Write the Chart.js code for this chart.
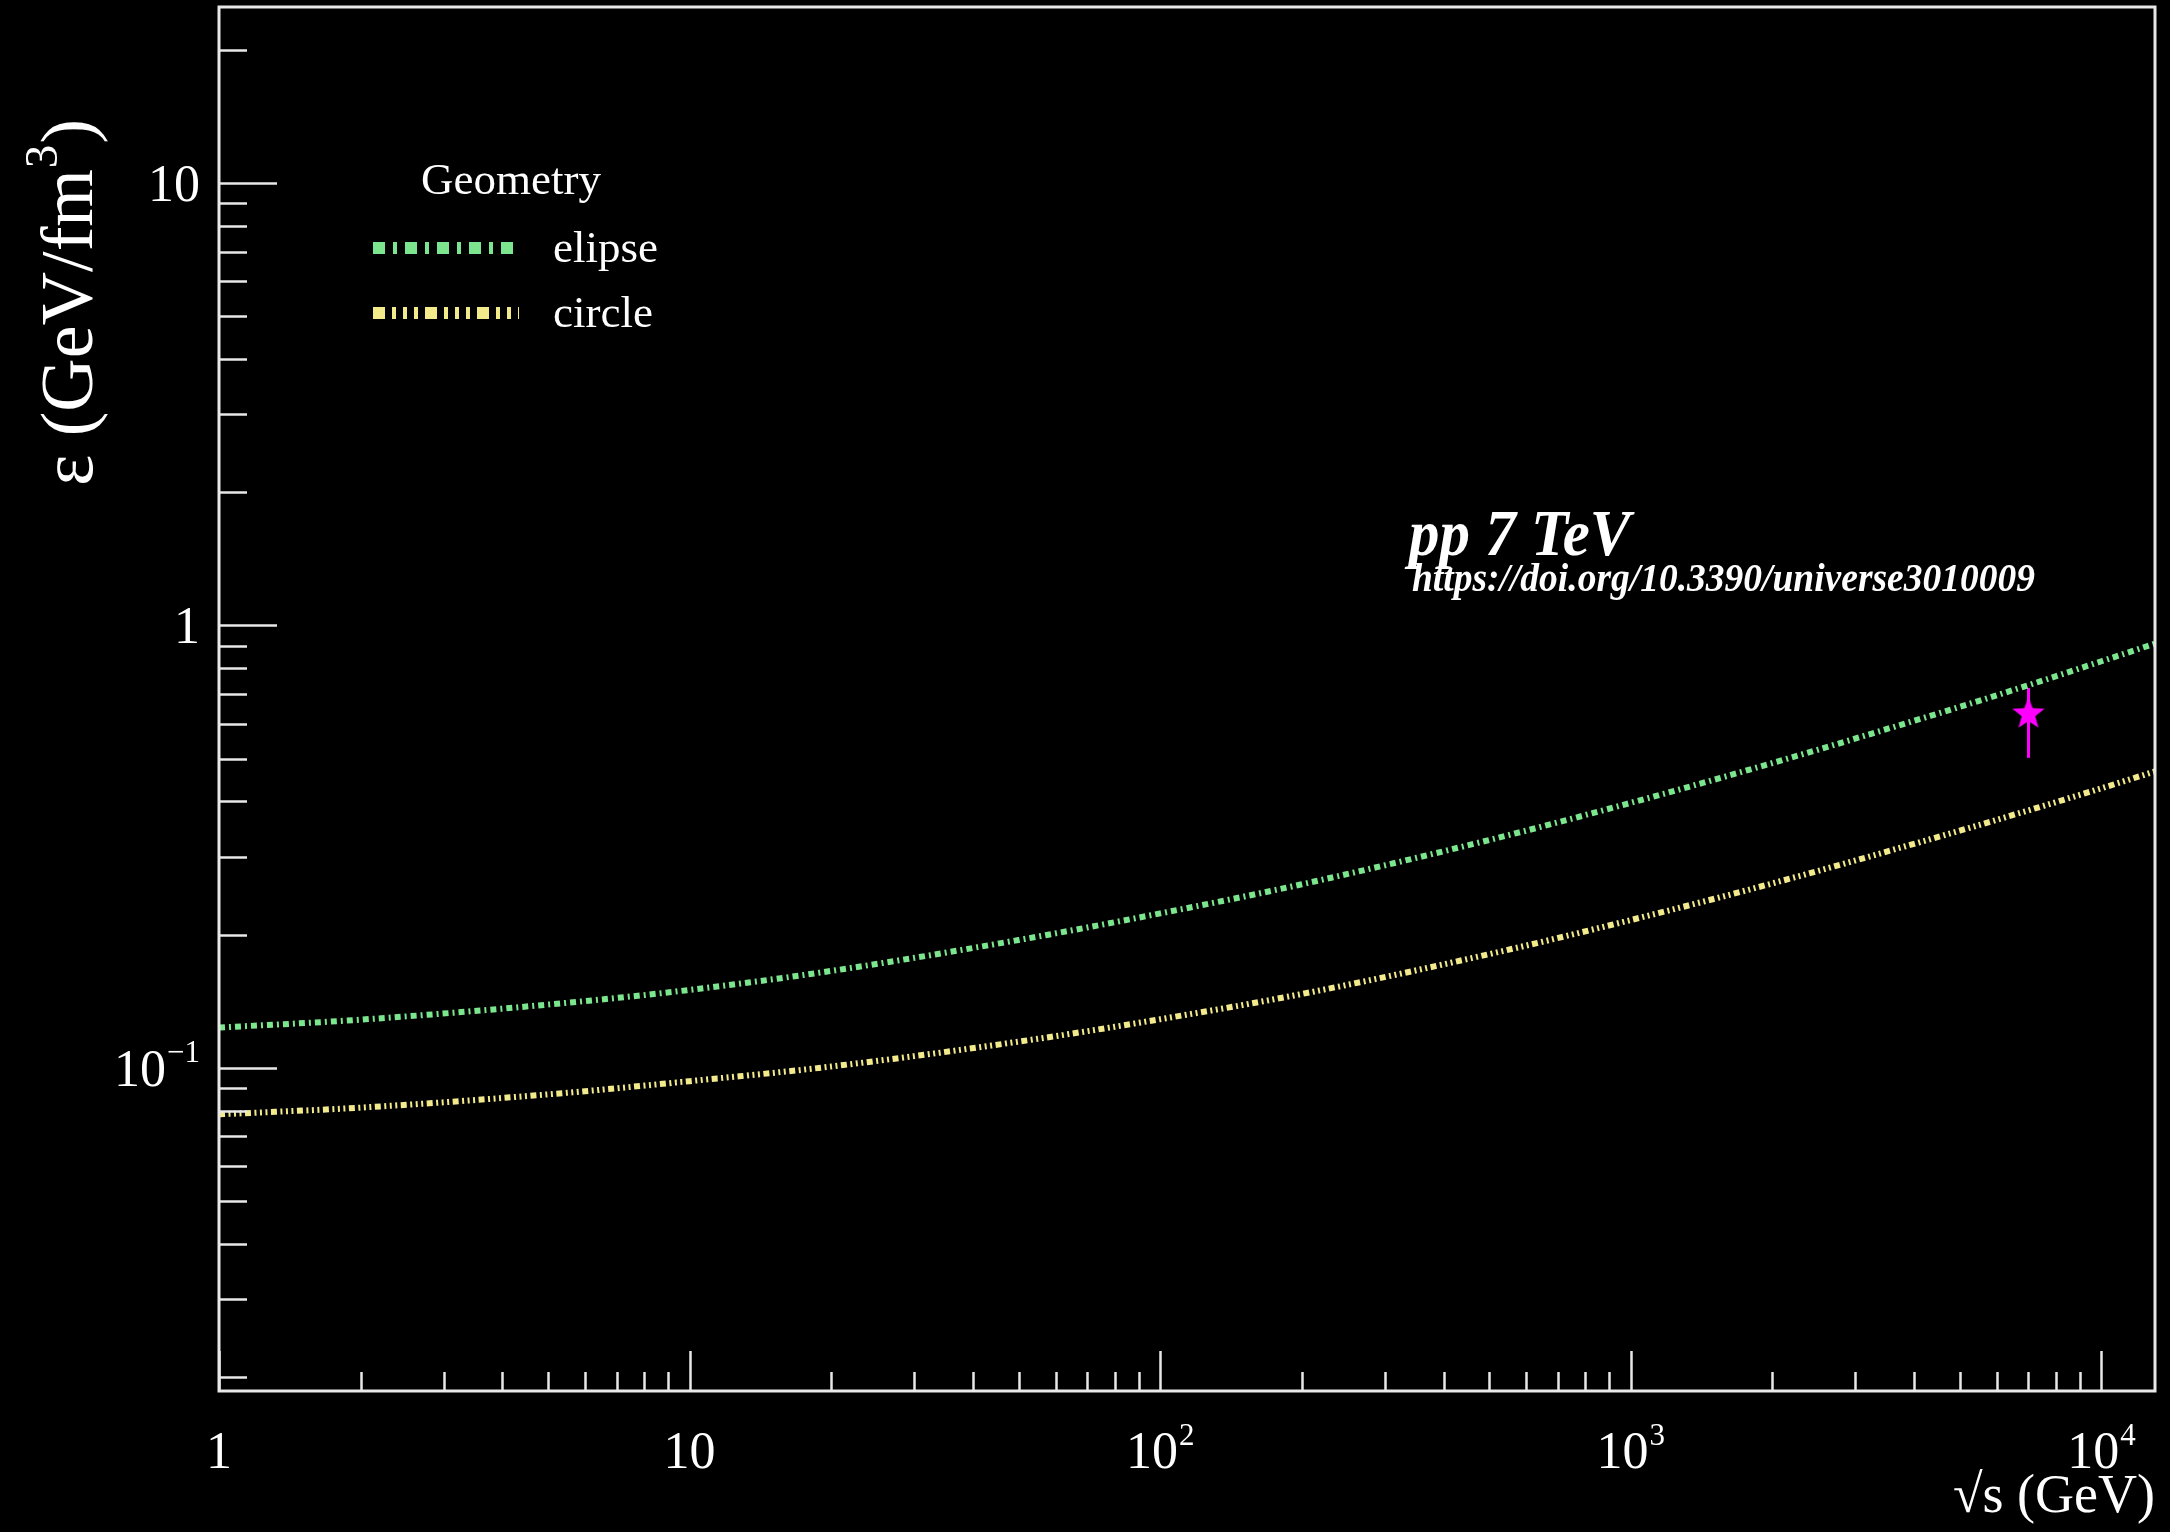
<!DOCTYPE html>
<html>
<head>
<meta charset="utf-8">
<title>Energy density vs sqrt(s)</title>
<script src="https://cdn.jsdelivr.net/npm/chart.js@4.4.1/dist/chart.umd.min.js"></script>
<style>
  html, body { margin: 0; padding: 0; background: #000; }
  #wrap { width: 2170px; height: 1532px; }
</style>
</head>
<body>
<div id="wrap"><canvas id="c" width="2170" height="1532"></canvas></div>
<script>
// Centre-of-mass energies (GeV) where the geometry curves are sampled
const sqrtS = [1, 2, 5, 10, 20, 50, 100, 200, 500, 1000, 2000, 5000, 7000, 10000, 13000];
// Energy density (GeV/fm^3), elliptic overlap geometry
const elipseEps = [0.1233, 0.1285, 0.1390, 0.1500, 0.1656, 0.1945, 0.2234, 0.2600, 0.3273, 0.3972, 0.4887, 0.6546, 0.7328, 0.8299, 0.9099];
// Energy density (GeV/fm^3), circular overlap geometry
const circleEps = [0.0785, 0.0813, 0.0871, 0.0933, 0.1007, 0.1146, 0.1288, 0.1469, 0.1807, 0.2158, 0.2612, 0.3436, 0.3819, 0.4285, 0.4677];

// pp 7 TeV point with its error band
const ppSqrtS = [7000];
const ppEps = [0.631];
const ppEpsHigh = [0.722];
const ppEpsLow = [0.502];

// Axis ranges and labelled decades
const xRange = [1, 13000];
const yRange = [0.0186, 25];
const xMajorTicks = [1, 10, 100, 1000, 10000];
const xTickLabels = [['1', ''], ['10', ''], ['10', '2'], ['10', '3'], ['10', '4']];
const yMajorTicks = [0.1, 1, 10];
const yTickLabels = [['10', '\u22121'], ['1', ''], ['10', '']];

const legendTitle = 'Geometry';
const seriesNames = ['elipse', 'circle'];
const seriesColors = ['#7ce68e', '#f3ea8c'];
const seriesDash = [[6, 4, 2, 4], [6, 3.5, 2, 3.5, 2, 3.5, 2, 3.5]];

const FONT = '"Liberation Serif", "Times New Roman", serif';
const AXIS_COLOR = '#e8e8e8';

function toPoints(xs, ys) { return xs.map((v, i) => ({ x: v, y: ys[i] })); }

// Filled five-pointed star used as the marker of the measured point
function makeStar(r, color) {
  const s = Math.ceil(r * 2 + 4);
  const c = document.createElement('canvas');
  c.width = s; c.height = s;
  const g = c.getContext('2d');
  g.fillStyle = color;
  g.beginPath();
  for (let i = 0; i < 10; i++) {
    const a = -Math.PI / 2 + i * Math.PI / 5;
    const rr = (i % 2) ? r * 0.42 : r;
    const px = s / 2 + rr * Math.cos(a), py = s / 2 + rr * Math.sin(a);
    if (i) g.lineTo(px, py); else g.moveTo(px, py);
  }
  g.closePath();
  g.fill();
  return c;
}

// "base^exp" text, anchored by alignment at (x, baseline)
function drawPow(ctx, base, exp, x, baseline, align, size) {
  const expSize = Math.round(size * 0.6);
  ctx.font = size + 'px ' + FONT;
  const wb = ctx.measureText(base).width;
  ctx.font = expSize + 'px ' + FONT;
  const we = exp ? ctx.measureText(exp).width + 1 : 0;
  const total = wb + we;
  let x0 = x;
  if (align === 'center') x0 = x - total / 2;
  else if (align === 'right') x0 = x - total;
  ctx.textAlign = 'left';
  ctx.textBaseline = 'alphabetic';
  ctx.font = size + 'px ' + FONT;
  ctx.fillText(base, x0, baseline);
  if (exp) {
    ctx.font = expSize + 'px ' + FONT;
    ctx.fillText(exp, x0 + wb + 1, baseline - size * 0.45);
  }
}

const framePlugin = {
  id: 'frameAndText',
  beforeDatasetsDraw(chart) {
    const { ctx, scales: { x, y } } = chart;
    ctx.save();
    ctx.strokeStyle = '#ff00ff';
    ctx.lineWidth = 3;
    ppSqrtS.forEach((s, i) => {
      const px = x.getPixelForValue(s);
      ctx.beginPath();
      ctx.moveTo(px, y.getPixelForValue(ppEpsHigh[i]));
      ctx.lineTo(px, y.getPixelForValue(ppEpsLow[i]));
      ctx.stroke();
    });
    ctx.restore();
  },
  afterDraw(chart) {
    const { ctx, chartArea: a, scales: { x, y } } = chart;
    ctx.save();

    // frame
    ctx.strokeStyle = AXIS_COLOR;
    ctx.lineWidth = 3;
    ctx.strokeRect(a.left, a.top, a.right - a.left, a.bottom - a.top);

    // inward ticks on the left axis
    ctx.lineWidth = 2.5;
    ctx.beginPath();
    for (let d = -2; d <= 1; d++) {
      for (let k = 1; k <= 9; k++) {
        const v = k * Math.pow(10, d);
        if (v < yRange[0] || v > yRange[1]) continue;
        const py = Math.round(y.getPixelForValue(v)) + 0.5;
        const len = k === 1 ? 58 : 28;
        ctx.moveTo(a.left, py);
        ctx.lineTo(a.left + len, py);
      }
    }
    // inward ticks on the bottom axis
    for (let d = 0; d <= 4; d++) {
      for (let k = 1; k <= 9; k++) {
        const v = k * Math.pow(10, d);
        if (v < xRange[0] || v > xRange[1]) continue;
        const px = Math.round(x.getPixelForValue(v)) + 0.5;
        const len = k === 1 ? 40 : 19;
        ctx.moveTo(px, a.bottom);
        ctx.lineTo(px, a.bottom - len);
      }
    }
    ctx.stroke();

    // tick labels
    ctx.fillStyle = '#ffffff';
    xMajorTicks.forEach((v, i) => {
      drawPow(ctx, xTickLabels[i][0], xTickLabels[i][1], x.getPixelForValue(v), 1468, 'center', 52);
    });
    yMajorTicks.forEach((v, i) => {
      drawPow(ctx, yTickLabels[i][0], yTickLabels[i][1], 200, y.getPixelForValue(v) + 18, 'right', 52);
    });

    // x title, right aligned at the axis end
    ctx.font = '54px ' + FONT;
    ctx.textAlign = 'right';
    ctx.textBaseline = 'alphabetic';
    ctx.fillText('\u221As (GeV)', a.right, 1512);

    // y title, rotated, right aligned at the top
    ctx.save();
    ctx.translate(92, 119);
    ctx.rotate(-Math.PI / 2);
    const tSize = 74, sSize = 47;
    ctx.font = tSize + 'px ' + FONT;
    const p1 = '\u03B5 (GeV/fm', p3 = ')';
    const w1 = ctx.measureText(p1).width, w3 = ctx.measureText(p3).width;
    ctx.font = sSize + 'px ' + FONT;
    const w2 = ctx.measureText('3').width + 2;
    let tx = -(w1 + w2 + w3);
    ctx.textAlign = 'left';
    ctx.font = tSize + 'px ' + FONT;
    ctx.fillText(p1, tx, 0);
    ctx.font = sSize + 'px ' + FONT;
    ctx.fillText('3', tx + w1 + 1, -35);
    ctx.font = tSize + 'px ' + FONT;
    ctx.fillText(p3, tx + w1 + w2, 0);
    ctx.restore();

    // legend
    ctx.font = '45px ' + FONT;
    ctx.textAlign = 'center';
    ctx.textBaseline = 'alphabetic';
    ctx.fillText(legendTitle, 511, 194);
    const rowY = [248, 313];
    seriesNames.forEach((name, i) => {
      ctx.save();
      ctx.strokeStyle = seriesColors[i];
      ctx.lineWidth = 12;
      ctx.lineCap = 'butt';
      ctx.setLineDash(seriesDash[i].map(v => v * 2));
      ctx.beginPath();
      ctx.moveTo(373, rowY[i]);
      ctx.lineTo(519, rowY[i]);
      ctx.stroke();
      ctx.restore();
      ctx.fillStyle = '#ffffff';
      ctx.font = '45px ' + FONT;
      ctx.textAlign = 'left';
      ctx.textBaseline = 'middle';
      ctx.fillText(name, 553, rowY[i] + 2);
    });

    // annotation, slightly stretched vertically
    ctx.textAlign = 'left';
    ctx.textBaseline = 'alphabetic';
    ctx.save();
    ctx.translate(1409, 555);
    ctx.scale(1, 1.08);
    ctx.font = 'italic bold 61px ' + FONT;
    ctx.fillText('pp 7 TeV', 0, 0);
    ctx.restore();
    ctx.save();
    ctx.translate(1412, 591);
    ctx.scale(1, 1.08);
    ctx.font = 'italic bold 37.5px ' + FONT;
    ctx.fillText('https://doi.org/10.3390/universe3010009', 0, 0);
    ctx.restore();

    ctx.restore();
  }
};

new Chart(document.getElementById('c'), {
  type: 'line',
  data: {
    datasets: [
      {
        label: 'pp 7 TeV',
        data: toPoints(ppSqrtS, ppEps),
        showLine: false,
        pointStyle: makeStar(17, '#ff00ff'),
        pointRadius: 17,
        borderColor: '#ff00ff',
        backgroundColor: '#ff00ff'
      },
      {
        label: seriesNames[0],
        data: toPoints(sqrtS, elipseEps),
        borderColor: seriesColors[0],
        borderWidth: 6,
        borderDash: seriesDash[0],
        borderCapStyle: 'butt',
        cubicInterpolationMode: 'monotone',
        pointRadius: 0,
        fill: false
      },
      {
        label: seriesNames[1],
        data: toPoints(sqrtS, circleEps),
        borderColor: seriesColors[1],
        borderWidth: 6,
        borderDash: seriesDash[1],
        borderCapStyle: 'butt',
        cubicInterpolationMode: 'monotone',
        pointRadius: 0,
        fill: false
      }
    ]
  },
  options: {
    responsive: false,
    animation: false,
    devicePixelRatio: 1,
    layout: { autoPadding: false, padding: { left: 219, right: 15, top: 7, bottom: 141 } },
    plugins: { legend: { display: false }, tooltip: { enabled: false } },
    scales: {
      x: { type: 'logarithmic', min: xRange[0], max: xRange[1], display: false },
      y: { type: 'logarithmic', min: yRange[0], max: yRange[1], display: false }
    }
  },
  plugins: [framePlugin]
});
</script>
</body>
</html>
